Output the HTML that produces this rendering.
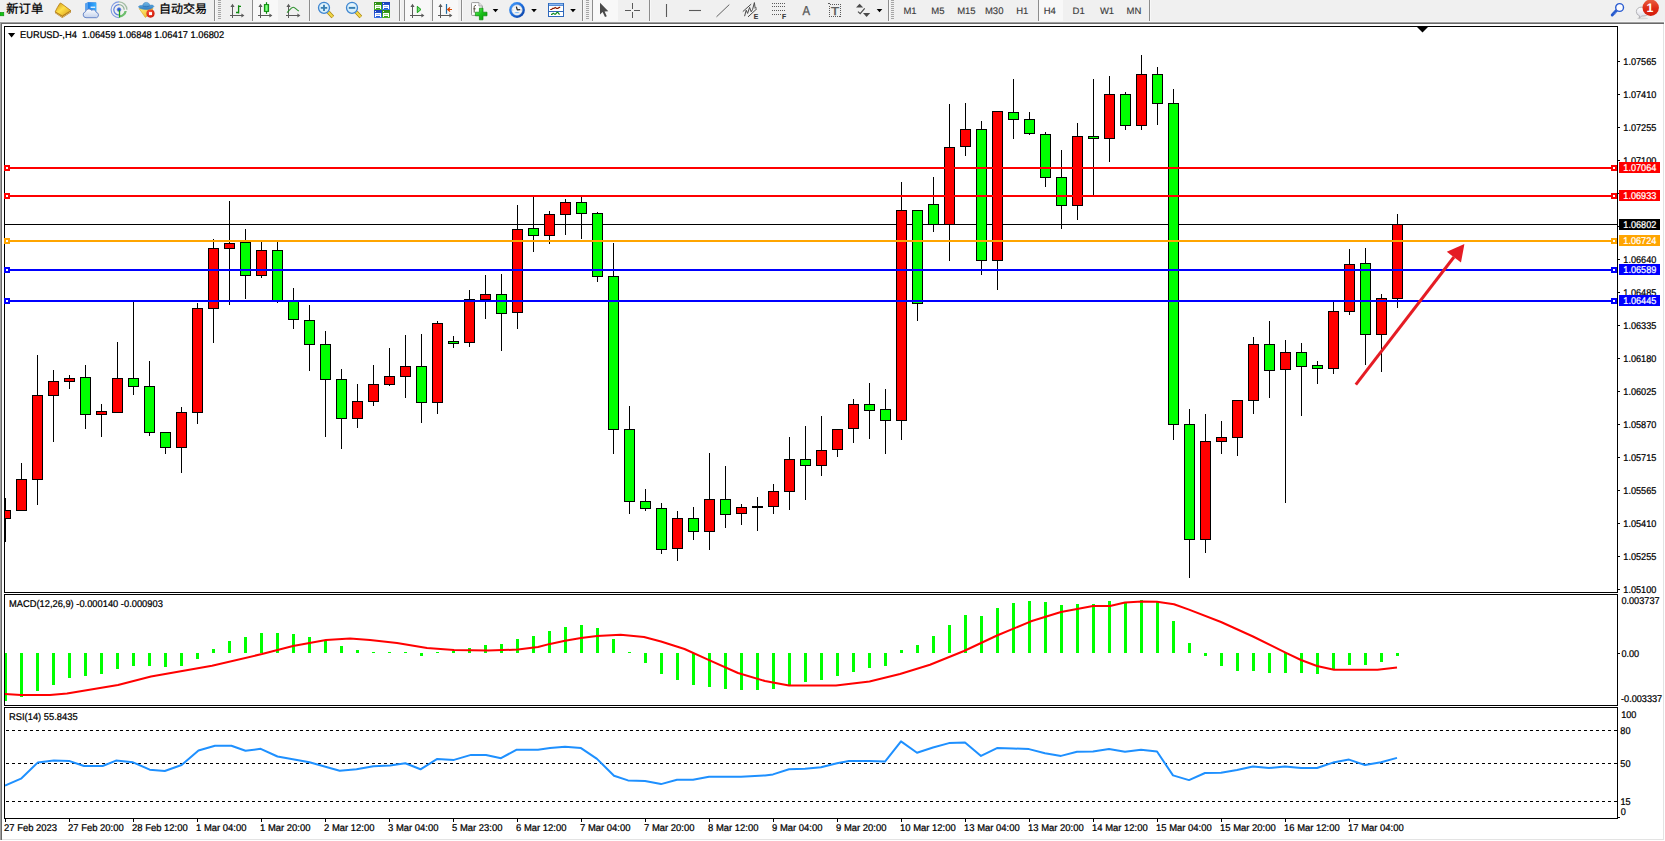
<!DOCTYPE html><html><head><meta charset="utf-8"><title>EURUSD-,H4</title><style>html,body{margin:0;padding:0;background:#fff;overflow:hidden}body{width:1665px;height:841px;position:relative}</style></head><body><svg width="1665" height="841" viewBox="0 0 1665 841" text-rendering="geometricPrecision" style="position:absolute;left:0;top:0;font-family:'Liberation Sans','Noto Sans CJK SC',sans-serif"><rect x="0" y="0" width="1665" height="841" fill="#fff"/><g shape-rendering="crispEdges"><rect x="0" y="0" width="1665" height="22" fill="#F0F0F0"/><rect x="0" y="21" width="1665" height="1" fill="#F6F6F6"/><rect x="0" y="22" width="1664" height="1" fill="#A0A0A0"/><rect x="0" y="23" width="1664" height="1" fill="#696969"/><rect x="0" y="22" width="1" height="818" fill="#A0A0A0"/><rect x="1" y="23" width="1" height="817" fill="#696969"/><rect x="1663" y="24" width="1" height="816" fill="#E3E3E3"/><rect x="2" y="839" width="1662" height="1" fill="#E3E3E3"/><rect x="4" y="26" width="1614" height="1" fill="#000"/><rect x="4" y="592" width="1614" height="1" fill="#000"/><rect x="4" y="26" width="1" height="567" fill="#000"/><rect x="1617" y="26" width="1" height="567" fill="#000"/><rect x="4" y="594" width="1614" height="1" fill="#000"/><rect x="4" y="705" width="1614" height="1" fill="#000"/><rect x="4" y="594" width="1" height="112" fill="#000"/><rect x="1617" y="594" width="1" height="112" fill="#000"/><rect x="4" y="707" width="1614" height="1" fill="#000"/><rect x="4" y="818" width="1614" height="1" fill="#000"/><rect x="4" y="707" width="1" height="112" fill="#000"/><rect x="1617" y="707" width="1" height="112" fill="#000"/></g><defs><clipPath id="cm"><rect x="5" y="27" width="1612" height="565"/></clipPath><clipPath id="c2"><rect x="5" y="595" width="1612" height="110"/></clipPath><clipPath id="c3"><rect x="5" y="708" width="1612" height="110"/></clipPath></defs><g shape-rendering="crispEdges" clip-path="url(#cm)"><rect x="5" y="224" width="1612" height="1" fill="#000"/><rect x="5" y="498" width="1" height="44" fill="#000"/><rect x="0" y="510" width="11" height="9" fill="#000"/><rect x="1" y="511" width="9" height="7" fill="#FF0000"/><rect x="21" y="463" width="1" height="48" fill="#000"/><rect x="16" y="479" width="11" height="32" fill="#000"/><rect x="17" y="480" width="9" height="30" fill="#FF0000"/><rect x="37" y="355" width="1" height="150" fill="#000"/><rect x="32" y="395" width="11" height="85" fill="#000"/><rect x="33" y="396" width="9" height="83" fill="#FF0000"/><rect x="53" y="370" width="1" height="72" fill="#000"/><rect x="48" y="381" width="11" height="15" fill="#000"/><rect x="49" y="382" width="9" height="13" fill="#FF0000"/><rect x="69" y="375" width="1" height="14" fill="#000"/><rect x="64" y="378" width="11" height="4" fill="#000"/><rect x="65" y="379" width="9" height="2" fill="#FF0000"/><rect x="85" y="365" width="1" height="64" fill="#000"/><rect x="80" y="377" width="11" height="38" fill="#000"/><rect x="81" y="378" width="9" height="36" fill="#00FF00"/><rect x="101" y="404" width="1" height="33" fill="#000"/><rect x="96" y="411" width="11" height="4" fill="#000"/><rect x="97" y="412" width="9" height="2" fill="#FF0000"/><rect x="117" y="342" width="1" height="71" fill="#000"/><rect x="112" y="378" width="11" height="35" fill="#000"/><rect x="113" y="379" width="9" height="33" fill="#FF0000"/><rect x="133" y="301" width="1" height="94" fill="#000"/><rect x="128" y="378" width="11" height="9" fill="#000"/><rect x="129" y="379" width="9" height="7" fill="#00FF00"/><rect x="149" y="361" width="1" height="75" fill="#000"/><rect x="144" y="386" width="11" height="47" fill="#000"/><rect x="145" y="387" width="9" height="45" fill="#00FF00"/><rect x="165" y="432" width="1" height="22" fill="#000"/><rect x="160" y="432" width="11" height="16" fill="#000"/><rect x="161" y="433" width="9" height="14" fill="#00FF00"/><rect x="181" y="407" width="1" height="66" fill="#000"/><rect x="176" y="412" width="11" height="36" fill="#000"/><rect x="177" y="413" width="9" height="34" fill="#FF0000"/><rect x="197" y="303" width="1" height="121" fill="#000"/><rect x="192" y="308" width="11" height="105" fill="#000"/><rect x="193" y="309" width="9" height="103" fill="#FF0000"/><rect x="213" y="239" width="1" height="104" fill="#000"/><rect x="208" y="248" width="11" height="61" fill="#000"/><rect x="209" y="249" width="9" height="59" fill="#FF0000"/><rect x="229" y="201" width="1" height="104" fill="#000"/><rect x="224" y="243" width="11" height="6" fill="#000"/><rect x="225" y="244" width="9" height="4" fill="#FF0000"/><rect x="245" y="229" width="1" height="70" fill="#000"/><rect x="240" y="242" width="11" height="34" fill="#000"/><rect x="241" y="243" width="9" height="32" fill="#00FF00"/><rect x="261" y="242" width="1" height="36" fill="#000"/><rect x="256" y="250" width="11" height="26" fill="#000"/><rect x="257" y="251" width="9" height="24" fill="#FF0000"/><rect x="277" y="242" width="1" height="61" fill="#000"/><rect x="272" y="250" width="11" height="51" fill="#000"/><rect x="273" y="251" width="9" height="49" fill="#00FF00"/><rect x="293" y="288" width="1" height="41" fill="#000"/><rect x="288" y="300" width="11" height="20" fill="#000"/><rect x="289" y="301" width="9" height="18" fill="#00FF00"/><rect x="309" y="305" width="1" height="66" fill="#000"/><rect x="304" y="320" width="11" height="25" fill="#000"/><rect x="305" y="321" width="9" height="23" fill="#00FF00"/><rect x="325" y="331" width="1" height="106" fill="#000"/><rect x="320" y="344" width="11" height="36" fill="#000"/><rect x="321" y="345" width="9" height="34" fill="#00FF00"/><rect x="341" y="369" width="1" height="80" fill="#000"/><rect x="336" y="379" width="11" height="40" fill="#000"/><rect x="337" y="380" width="9" height="38" fill="#00FF00"/><rect x="357" y="384" width="1" height="44" fill="#000"/><rect x="352" y="401" width="11" height="18" fill="#000"/><rect x="353" y="402" width="9" height="16" fill="#FF0000"/><rect x="373" y="365" width="1" height="41" fill="#000"/><rect x="368" y="384" width="11" height="18" fill="#000"/><rect x="369" y="385" width="9" height="16" fill="#FF0000"/><rect x="389" y="348" width="1" height="38" fill="#000"/><rect x="384" y="376" width="11" height="9" fill="#000"/><rect x="385" y="377" width="9" height="7" fill="#FF0000"/><rect x="405" y="335" width="1" height="63" fill="#000"/><rect x="400" y="366" width="11" height="11" fill="#000"/><rect x="401" y="367" width="9" height="9" fill="#FF0000"/><rect x="421" y="334" width="1" height="89" fill="#000"/><rect x="416" y="366" width="11" height="37" fill="#000"/><rect x="417" y="367" width="9" height="35" fill="#00FF00"/><rect x="437" y="321" width="1" height="93" fill="#000"/><rect x="432" y="323" width="11" height="80" fill="#000"/><rect x="433" y="324" width="9" height="78" fill="#FF0000"/><rect x="453" y="336" width="1" height="12" fill="#000"/><rect x="448" y="341" width="11" height="3" fill="#000"/><rect x="449" y="342" width="9" height="1" fill="#00FF00"/><rect x="469" y="290" width="1" height="57" fill="#000"/><rect x="464" y="299" width="11" height="44" fill="#000"/><rect x="465" y="300" width="9" height="42" fill="#FF0000"/><rect x="485" y="275" width="1" height="44" fill="#000"/><rect x="480" y="294" width="11" height="6" fill="#000"/><rect x="481" y="295" width="9" height="4" fill="#FF0000"/><rect x="501" y="274" width="1" height="77" fill="#000"/><rect x="496" y="294" width="11" height="20" fill="#000"/><rect x="497" y="295" width="9" height="18" fill="#00FF00"/><rect x="517" y="205" width="1" height="124" fill="#000"/><rect x="512" y="229" width="11" height="84" fill="#000"/><rect x="513" y="230" width="9" height="82" fill="#FF0000"/><rect x="533" y="196" width="1" height="56" fill="#000"/><rect x="528" y="228" width="11" height="8" fill="#000"/><rect x="529" y="229" width="9" height="6" fill="#00FF00"/><rect x="549" y="211" width="1" height="33" fill="#000"/><rect x="544" y="214" width="11" height="22" fill="#000"/><rect x="545" y="215" width="9" height="20" fill="#FF0000"/><rect x="565" y="199" width="1" height="36" fill="#000"/><rect x="560" y="202" width="11" height="13" fill="#000"/><rect x="561" y="203" width="9" height="11" fill="#FF0000"/><rect x="581" y="196" width="1" height="43" fill="#000"/><rect x="576" y="202" width="11" height="12" fill="#000"/><rect x="577" y="203" width="9" height="10" fill="#00FF00"/><rect x="597" y="212" width="1" height="70" fill="#000"/><rect x="592" y="213" width="11" height="64" fill="#000"/><rect x="593" y="214" width="9" height="62" fill="#00FF00"/><rect x="613" y="243" width="1" height="211" fill="#000"/><rect x="608" y="276" width="11" height="154" fill="#000"/><rect x="609" y="277" width="9" height="152" fill="#00FF00"/><rect x="629" y="406" width="1" height="108" fill="#000"/><rect x="624" y="429" width="11" height="73" fill="#000"/><rect x="625" y="430" width="9" height="71" fill="#00FF00"/><rect x="645" y="489" width="1" height="22" fill="#000"/><rect x="640" y="501" width="11" height="8" fill="#000"/><rect x="641" y="502" width="9" height="6" fill="#00FF00"/><rect x="661" y="503" width="1" height="51" fill="#000"/><rect x="656" y="508" width="11" height="42" fill="#000"/><rect x="657" y="509" width="9" height="40" fill="#00FF00"/><rect x="677" y="511" width="1" height="50" fill="#000"/><rect x="672" y="518" width="11" height="31" fill="#000"/><rect x="673" y="519" width="9" height="29" fill="#FF0000"/><rect x="693" y="507" width="1" height="33" fill="#000"/><rect x="688" y="518" width="11" height="14" fill="#000"/><rect x="689" y="519" width="9" height="12" fill="#00FF00"/><rect x="709" y="453" width="1" height="97" fill="#000"/><rect x="704" y="499" width="11" height="33" fill="#000"/><rect x="705" y="500" width="9" height="31" fill="#FF0000"/><rect x="725" y="466" width="1" height="62" fill="#000"/><rect x="720" y="499" width="11" height="16" fill="#000"/><rect x="721" y="500" width="9" height="14" fill="#00FF00"/><rect x="741" y="504" width="1" height="21" fill="#000"/><rect x="736" y="507" width="11" height="7" fill="#000"/><rect x="737" y="508" width="9" height="5" fill="#FF0000"/><rect x="757" y="497" width="1" height="34" fill="#000"/><rect x="752" y="506" width="11" height="2" fill="#000"/><rect x="773" y="484" width="1" height="30" fill="#000"/><rect x="768" y="491" width="11" height="16" fill="#000"/><rect x="769" y="492" width="9" height="14" fill="#FF0000"/><rect x="789" y="437" width="1" height="73" fill="#000"/><rect x="784" y="459" width="11" height="33" fill="#000"/><rect x="785" y="460" width="9" height="31" fill="#FF0000"/><rect x="805" y="426" width="1" height="74" fill="#000"/><rect x="800" y="459" width="11" height="7" fill="#000"/><rect x="801" y="460" width="9" height="5" fill="#00FF00"/><rect x="821" y="416" width="1" height="60" fill="#000"/><rect x="816" y="450" width="11" height="16" fill="#000"/><rect x="817" y="451" width="9" height="14" fill="#FF0000"/><rect x="837" y="429" width="1" height="28" fill="#000"/><rect x="832" y="429" width="11" height="21" fill="#000"/><rect x="833" y="430" width="9" height="19" fill="#FF0000"/><rect x="853" y="399" width="1" height="44" fill="#000"/><rect x="848" y="404" width="11" height="25" fill="#000"/><rect x="849" y="405" width="9" height="23" fill="#FF0000"/><rect x="869" y="383" width="1" height="56" fill="#000"/><rect x="864" y="404" width="11" height="7" fill="#000"/><rect x="865" y="405" width="9" height="5" fill="#00FF00"/><rect x="885" y="389" width="1" height="65" fill="#000"/><rect x="880" y="409" width="11" height="12" fill="#000"/><rect x="881" y="410" width="9" height="10" fill="#00FF00"/><rect x="901" y="182" width="1" height="258" fill="#000"/><rect x="896" y="210" width="11" height="211" fill="#000"/><rect x="897" y="211" width="9" height="209" fill="#FF0000"/><rect x="917" y="210" width="1" height="111" fill="#000"/><rect x="912" y="210" width="11" height="94" fill="#000"/><rect x="913" y="211" width="9" height="92" fill="#00FF00"/><rect x="933" y="177" width="1" height="55" fill="#000"/><rect x="928" y="204" width="11" height="21" fill="#000"/><rect x="929" y="205" width="9" height="19" fill="#00FF00"/><rect x="949" y="104" width="1" height="157" fill="#000"/><rect x="944" y="147" width="11" height="78" fill="#000"/><rect x="945" y="148" width="9" height="76" fill="#FF0000"/><rect x="965" y="103" width="1" height="53" fill="#000"/><rect x="960" y="129" width="11" height="18" fill="#000"/><rect x="961" y="130" width="9" height="16" fill="#FF0000"/><rect x="981" y="121" width="1" height="154" fill="#000"/><rect x="976" y="129" width="11" height="132" fill="#000"/><rect x="977" y="130" width="9" height="130" fill="#00FF00"/><rect x="997" y="111" width="1" height="179" fill="#000"/><rect x="992" y="111" width="11" height="150" fill="#000"/><rect x="993" y="112" width="9" height="148" fill="#FF0000"/><rect x="1013" y="79" width="1" height="60" fill="#000"/><rect x="1008" y="112" width="11" height="8" fill="#000"/><rect x="1009" y="113" width="9" height="6" fill="#00FF00"/><rect x="1029" y="112" width="1" height="23" fill="#000"/><rect x="1024" y="119" width="11" height="15" fill="#000"/><rect x="1025" y="120" width="9" height="13" fill="#00FF00"/><rect x="1045" y="132" width="1" height="55" fill="#000"/><rect x="1040" y="134" width="11" height="44" fill="#000"/><rect x="1041" y="135" width="9" height="42" fill="#00FF00"/><rect x="1061" y="150" width="1" height="79" fill="#000"/><rect x="1056" y="177" width="11" height="29" fill="#000"/><rect x="1057" y="178" width="9" height="27" fill="#00FF00"/><rect x="1077" y="123" width="1" height="97" fill="#000"/><rect x="1072" y="136" width="11" height="70" fill="#000"/><rect x="1073" y="137" width="9" height="68" fill="#FF0000"/><rect x="1093" y="79" width="1" height="116" fill="#000"/><rect x="1088" y="136" width="11" height="3" fill="#000"/><rect x="1089" y="137" width="9" height="1" fill="#00FF00"/><rect x="1109" y="76" width="1" height="86" fill="#000"/><rect x="1104" y="94" width="11" height="45" fill="#000"/><rect x="1105" y="95" width="9" height="43" fill="#FF0000"/><rect x="1125" y="92" width="1" height="38" fill="#000"/><rect x="1120" y="94" width="11" height="32" fill="#000"/><rect x="1121" y="95" width="9" height="30" fill="#00FF00"/><rect x="1141" y="55" width="1" height="75" fill="#000"/><rect x="1136" y="74" width="11" height="52" fill="#000"/><rect x="1137" y="75" width="9" height="50" fill="#FF0000"/><rect x="1157" y="67" width="1" height="58" fill="#000"/><rect x="1152" y="74" width="11" height="30" fill="#000"/><rect x="1153" y="75" width="9" height="28" fill="#00FF00"/><rect x="1173" y="89" width="1" height="351" fill="#000"/><rect x="1168" y="103" width="11" height="322" fill="#000"/><rect x="1169" y="104" width="9" height="320" fill="#00FF00"/><rect x="1189" y="409" width="1" height="169" fill="#000"/><rect x="1184" y="424" width="11" height="116" fill="#000"/><rect x="1185" y="425" width="9" height="114" fill="#00FF00"/><rect x="1205" y="414" width="1" height="139" fill="#000"/><rect x="1200" y="441" width="11" height="99" fill="#000"/><rect x="1201" y="442" width="9" height="97" fill="#FF0000"/><rect x="1221" y="421" width="1" height="33" fill="#000"/><rect x="1216" y="437" width="11" height="5" fill="#000"/><rect x="1217" y="438" width="9" height="3" fill="#FF0000"/><rect x="1237" y="400" width="1" height="56" fill="#000"/><rect x="1232" y="400" width="11" height="38" fill="#000"/><rect x="1233" y="401" width="9" height="36" fill="#FF0000"/><rect x="1253" y="337" width="1" height="77" fill="#000"/><rect x="1248" y="344" width="11" height="57" fill="#000"/><rect x="1249" y="345" width="9" height="55" fill="#FF0000"/><rect x="1269" y="321" width="1" height="77" fill="#000"/><rect x="1264" y="344" width="11" height="27" fill="#000"/><rect x="1265" y="345" width="9" height="25" fill="#00FF00"/><rect x="1285" y="340" width="1" height="163" fill="#000"/><rect x="1280" y="352" width="11" height="18" fill="#000"/><rect x="1281" y="353" width="9" height="16" fill="#FF0000"/><rect x="1301" y="343" width="1" height="73" fill="#000"/><rect x="1296" y="352" width="11" height="15" fill="#000"/><rect x="1297" y="353" width="9" height="13" fill="#00FF00"/><rect x="1317" y="361" width="1" height="23" fill="#000"/><rect x="1312" y="365" width="11" height="4" fill="#000"/><rect x="1313" y="366" width="9" height="2" fill="#00FF00"/><rect x="1333" y="301" width="1" height="73" fill="#000"/><rect x="1328" y="311" width="11" height="58" fill="#000"/><rect x="1329" y="312" width="9" height="56" fill="#FF0000"/><rect x="1349" y="249" width="1" height="66" fill="#000"/><rect x="1344" y="264" width="11" height="48" fill="#000"/><rect x="1345" y="265" width="9" height="46" fill="#FF0000"/><rect x="1365" y="248" width="1" height="117" fill="#000"/><rect x="1360" y="263" width="11" height="72" fill="#000"/><rect x="1361" y="264" width="9" height="70" fill="#00FF00"/><rect x="1381" y="294" width="1" height="78" fill="#000"/><rect x="1376" y="298" width="11" height="37" fill="#000"/><rect x="1377" y="299" width="9" height="35" fill="#FF0000"/><rect x="1397" y="214" width="1" height="94" fill="#000"/><rect x="1392" y="224" width="11" height="75" fill="#000"/><rect x="1393" y="225" width="9" height="73" fill="#FF0000"/><rect x="5" y="167" width="1612" height="2" fill="#FF0000"/><rect x="5" y="195" width="1612" height="2" fill="#FF0000"/><rect x="5" y="240" width="1612" height="2" fill="#FFA500"/><rect x="5" y="269" width="1612" height="2" fill="#0000FF"/><rect x="5" y="300" width="1612" height="2" fill="#0000FF"/></g><path d="M1417 27 L1428 27 L1422.5 32.5 Z" fill="#000"/><g shape-rendering="crispEdges"><rect x="4" y="165" width="6" height="6" fill="#FF0000"/><rect x="6" y="167" width="2" height="2" fill="#fff"/><rect x="1611" y="165" width="6" height="6" fill="#FF0000"/><rect x="1613" y="167" width="2" height="2" fill="#fff"/><rect x="4" y="193" width="6" height="6" fill="#FF0000"/><rect x="6" y="195" width="2" height="2" fill="#fff"/><rect x="1611" y="193" width="6" height="6" fill="#FF0000"/><rect x="1613" y="195" width="2" height="2" fill="#fff"/><rect x="4" y="238" width="6" height="6" fill="#FFA500"/><rect x="6" y="240" width="2" height="2" fill="#fff"/><rect x="1611" y="238" width="6" height="6" fill="#FFA500"/><rect x="1613" y="240" width="2" height="2" fill="#fff"/><rect x="4" y="267" width="6" height="6" fill="#0000FF"/><rect x="6" y="269" width="2" height="2" fill="#fff"/><rect x="1611" y="267" width="6" height="6" fill="#0000FF"/><rect x="1613" y="269" width="2" height="2" fill="#fff"/><rect x="4" y="298" width="6" height="6" fill="#0000FF"/><rect x="6" y="300" width="2" height="2" fill="#fff"/><rect x="1611" y="298" width="6" height="6" fill="#0000FF"/><rect x="1613" y="300" width="2" height="2" fill="#fff"/></g><g><line x1="1355.8" y1="384.6" x2="1454" y2="257" stroke="#E51C24" stroke-width="3"/><path d="M1464.4 243.9 L1461 262.6 L1446.8 251.8 Z" fill="#E51C24"/></g><path d="M8 33 L15.2 33 L11.6 37.6 Z" fill="#000"/><text transform="translate(20 38) scale(0.949 1)" font-size="9.8" fill="#000" stroke="#000" stroke-width="0.24" id="t_title" xml:space="preserve">EURUSD-,H4  1.06459 1.06848 1.06417 1.06802</text><g shape-rendering="crispEdges"><rect x="1618" y="61" width="2" height="1" fill="#000"/><rect x="1618" y="94" width="2" height="1" fill="#000"/><rect x="1618" y="127" width="2" height="1" fill="#000"/><rect x="1618" y="160" width="2" height="1" fill="#000"/><rect x="1618" y="193" width="2" height="1" fill="#000"/><rect x="1618" y="226" width="2" height="1" fill="#000"/><rect x="1618" y="259" width="2" height="1" fill="#000"/><rect x="1618" y="292" width="2" height="1" fill="#000"/><rect x="1618" y="325" width="2" height="1" fill="#000"/><rect x="1618" y="358" width="2" height="1" fill="#000"/><rect x="1618" y="391" width="2" height="1" fill="#000"/><rect x="1618" y="424" width="2" height="1" fill="#000"/><rect x="1618" y="457" width="2" height="1" fill="#000"/><rect x="1618" y="490" width="2" height="1" fill="#000"/><rect x="1618" y="523" width="2" height="1" fill="#000"/><rect x="1618" y="556" width="2" height="1" fill="#000"/><rect x="1618" y="589" width="2" height="1" fill="#000"/></g><text transform="translate(1623.3 65) scale(0.9337 1)" font-size="9.8" fill="#000" stroke="#000" stroke-width="0.24" class="pl" xml:space="preserve">1.07565</text><text transform="translate(1623.3 98) scale(0.9337 1)" font-size="9.8" fill="#000" stroke="#000" stroke-width="0.24" class="pl" xml:space="preserve">1.07410</text><text transform="translate(1623.3 131) scale(0.9337 1)" font-size="9.8" fill="#000" stroke="#000" stroke-width="0.24" class="pl" xml:space="preserve">1.07255</text><text transform="translate(1623.3 164) scale(0.9337 1)" font-size="9.8" fill="#000" stroke="#000" stroke-width="0.24" class="pl" xml:space="preserve">1.07100</text><text transform="translate(1623.3 263) scale(0.9337 1)" font-size="9.8" fill="#000" stroke="#000" stroke-width="0.24" class="pl" xml:space="preserve">1.06640</text><text transform="translate(1623.3 296) scale(0.9337 1)" font-size="9.8" fill="#000" stroke="#000" stroke-width="0.24" class="pl" xml:space="preserve">1.06485</text><text transform="translate(1623.3 329) scale(0.9337 1)" font-size="9.8" fill="#000" stroke="#000" stroke-width="0.24" class="pl" xml:space="preserve">1.06335</text><text transform="translate(1623.3 362) scale(0.9337 1)" font-size="9.8" fill="#000" stroke="#000" stroke-width="0.24" class="pl" xml:space="preserve">1.06180</text><text transform="translate(1623.3 395) scale(0.9337 1)" font-size="9.8" fill="#000" stroke="#000" stroke-width="0.24" class="pl" xml:space="preserve">1.06025</text><text transform="translate(1623.3 428) scale(0.9337 1)" font-size="9.8" fill="#000" stroke="#000" stroke-width="0.24" class="pl" xml:space="preserve">1.05870</text><text transform="translate(1623.3 461) scale(0.9337 1)" font-size="9.8" fill="#000" stroke="#000" stroke-width="0.24" class="pl" xml:space="preserve">1.05715</text><text transform="translate(1623.3 494) scale(0.9337 1)" font-size="9.8" fill="#000" stroke="#000" stroke-width="0.24" class="pl" xml:space="preserve">1.05565</text><text transform="translate(1623.3 527) scale(0.9337 1)" font-size="9.8" fill="#000" stroke="#000" stroke-width="0.24" class="pl" xml:space="preserve">1.05410</text><text transform="translate(1623.3 560) scale(0.9337 1)" font-size="9.8" fill="#000" stroke="#000" stroke-width="0.24" class="pl" xml:space="preserve">1.05255</text><text transform="translate(1623.3 593) scale(0.9337 1)" font-size="9.8" fill="#000" stroke="#000" stroke-width="0.24" class="pl" xml:space="preserve">1.05100</text><rect x="1619" y="162" width="41" height="11" fill="#FF0000" shape-rendering="crispEdges"/><text transform="translate(1623.3 171) scale(0.9337 1)" font-size="9.8" fill="#fff" stroke="#fff" stroke-width="0.24" class="pl" xml:space="preserve">1.07064</text><rect x="1619" y="190" width="41" height="11" fill="#FF0000" shape-rendering="crispEdges"/><text transform="translate(1623.3 199) scale(0.9337 1)" font-size="9.8" fill="#fff" stroke="#fff" stroke-width="0.24" class="pl" xml:space="preserve">1.06933</text><rect x="1619" y="219" width="41" height="11" fill="#000000" shape-rendering="crispEdges"/><text transform="translate(1623.3 228) scale(0.9337 1)" font-size="9.8" fill="#fff" stroke="#fff" stroke-width="0.24" class="pl" xml:space="preserve">1.06802</text><rect x="1619" y="235" width="41" height="11" fill="#FFA500" shape-rendering="crispEdges"/><text transform="translate(1623.3 244) scale(0.9337 1)" font-size="9.8" fill="#fff" stroke="#fff" stroke-width="0.24" class="pl" xml:space="preserve">1.06724</text><rect x="1619" y="264" width="41" height="11" fill="#0000FF" shape-rendering="crispEdges"/><text transform="translate(1623.3 273) scale(0.9337 1)" font-size="9.8" fill="#fff" stroke="#fff" stroke-width="0.24" class="pl" xml:space="preserve">1.06589</text><rect x="1619" y="295" width="41" height="11" fill="#0000FF" shape-rendering="crispEdges"/><text transform="translate(1623.3 304) scale(0.9337 1)" font-size="9.8" fill="#fff" stroke="#fff" stroke-width="0.24" class="pl" xml:space="preserve">1.06445</text><g shape-rendering="crispEdges" clip-path="url(#c2)"><rect x="4" y="653" width="3" height="48" fill="#00FF00"/><rect x="20" y="653" width="3" height="44" fill="#00FF00"/><rect x="36" y="653" width="3" height="38" fill="#00FF00"/><rect x="52" y="653" width="3" height="32" fill="#00FF00"/><rect x="68" y="653" width="3" height="25" fill="#00FF00"/><rect x="84" y="653" width="3" height="23" fill="#00FF00"/><rect x="100" y="653" width="3" height="21" fill="#00FF00"/><rect x="116" y="653" width="3" height="16" fill="#00FF00"/><rect x="132" y="653" width="3" height="13" fill="#00FF00"/><rect x="148" y="653" width="3" height="13" fill="#00FF00"/><rect x="164" y="653" width="3" height="14" fill="#00FF00"/><rect x="180" y="653" width="3" height="13" fill="#00FF00"/><rect x="196" y="653" width="3" height="6" fill="#00FF00"/><rect x="212" y="649" width="3" height="4" fill="#00FF00"/><rect x="228" y="641" width="3" height="12" fill="#00FF00"/><rect x="244" y="637" width="3" height="16" fill="#00FF00"/><rect x="260" y="633" width="3" height="20" fill="#00FF00"/><rect x="276" y="633" width="3" height="20" fill="#00FF00"/><rect x="292" y="634" width="3" height="19" fill="#00FF00"/><rect x="308" y="637" width="3" height="16" fill="#00FF00"/><rect x="324" y="640" width="3" height="13" fill="#00FF00"/><rect x="340" y="646" width="3" height="7" fill="#00FF00"/><rect x="356" y="650" width="3" height="3" fill="#00FF00"/><rect x="372" y="652" width="3" height="1" fill="#00FF00"/><rect x="388" y="652" width="3" height="1" fill="#00FF00"/><rect x="404" y="652" width="3" height="1" fill="#00FF00"/><rect x="420" y="653" width="3" height="3" fill="#00FF00"/><rect x="436" y="652" width="3" height="1" fill="#00FF00"/><rect x="452" y="651" width="3" height="2" fill="#00FF00"/><rect x="468" y="648" width="3" height="5" fill="#00FF00"/><rect x="484" y="645" width="3" height="8" fill="#00FF00"/><rect x="500" y="644" width="3" height="9" fill="#00FF00"/><rect x="516" y="639" width="3" height="14" fill="#00FF00"/><rect x="532" y="636" width="3" height="17" fill="#00FF00"/><rect x="548" y="631" width="3" height="22" fill="#00FF00"/><rect x="564" y="627" width="3" height="26" fill="#00FF00"/><rect x="580" y="625" width="3" height="28" fill="#00FF00"/><rect x="596" y="628" width="3" height="25" fill="#00FF00"/><rect x="612" y="639" width="3" height="14" fill="#00FF00"/><rect x="628" y="652" width="3" height="1" fill="#00FF00"/><rect x="644" y="653" width="3" height="10" fill="#00FF00"/><rect x="660" y="653" width="3" height="21" fill="#00FF00"/><rect x="676" y="653" width="3" height="27" fill="#00FF00"/><rect x="692" y="653" width="3" height="32" fill="#00FF00"/><rect x="708" y="653" width="3" height="34" fill="#00FF00"/><rect x="724" y="653" width="3" height="36" fill="#00FF00"/><rect x="740" y="653" width="3" height="37" fill="#00FF00"/><rect x="756" y="653" width="3" height="37" fill="#00FF00"/><rect x="772" y="653" width="3" height="36" fill="#00FF00"/><rect x="788" y="653" width="3" height="33" fill="#00FF00"/><rect x="804" y="653" width="3" height="29" fill="#00FF00"/><rect x="820" y="653" width="3" height="27" fill="#00FF00"/><rect x="836" y="653" width="3" height="23" fill="#00FF00"/><rect x="852" y="653" width="3" height="19" fill="#00FF00"/><rect x="868" y="653" width="3" height="15" fill="#00FF00"/><rect x="884" y="653" width="3" height="13" fill="#00FF00"/><rect x="900" y="650" width="3" height="3" fill="#00FF00"/><rect x="916" y="645" width="3" height="8" fill="#00FF00"/><rect x="932" y="636" width="3" height="17" fill="#00FF00"/><rect x="948" y="625" width="3" height="28" fill="#00FF00"/><rect x="964" y="615" width="3" height="38" fill="#00FF00"/><rect x="980" y="616" width="3" height="37" fill="#00FF00"/><rect x="996" y="608" width="3" height="45" fill="#00FF00"/><rect x="1012" y="603" width="3" height="50" fill="#00FF00"/><rect x="1028" y="601" width="3" height="52" fill="#00FF00"/><rect x="1044" y="602" width="3" height="51" fill="#00FF00"/><rect x="1060" y="605" width="3" height="48" fill="#00FF00"/><rect x="1076" y="604" width="3" height="49" fill="#00FF00"/><rect x="1092" y="604" width="3" height="49" fill="#00FF00"/><rect x="1108" y="601" width="3" height="52" fill="#00FF00"/><rect x="1124" y="603" width="3" height="50" fill="#00FF00"/><rect x="1140" y="600" width="3" height="53" fill="#00FF00"/><rect x="1156" y="601" width="3" height="52" fill="#00FF00"/><rect x="1172" y="621" width="3" height="32" fill="#00FF00"/><rect x="1188" y="643" width="3" height="10" fill="#00FF00"/><rect x="1204" y="653" width="3" height="3" fill="#00FF00"/><rect x="1220" y="653" width="3" height="13" fill="#00FF00"/><rect x="1236" y="653" width="3" height="18" fill="#00FF00"/><rect x="1252" y="653" width="3" height="18" fill="#00FF00"/><rect x="1268" y="653" width="3" height="20" fill="#00FF00"/><rect x="1284" y="653" width="3" height="20" fill="#00FF00"/><rect x="1300" y="653" width="3" height="20" fill="#00FF00"/><rect x="1316" y="653" width="3" height="21" fill="#00FF00"/><rect x="1332" y="653" width="3" height="17" fill="#00FF00"/><rect x="1348" y="653" width="3" height="12" fill="#00FF00"/><rect x="1364" y="653" width="3" height="12" fill="#00FF00"/><rect x="1380" y="653" width="3" height="9" fill="#00FF00"/><rect x="1396" y="653" width="3" height="3" fill="#00FF00"/></g><polyline clip-path="url(#c2)" fill="none" stroke="#FF0000" stroke-width="2" stroke-linejoin="round" points="5,694 21,695 50,695 67,693.5 118,685 151,676.5 212,665.7 262,654 293,646 326,640 350,638.5 370,640 397,643 427,648 454,650 488,650.6 518,649.6 538,647 550,643.9 565,640.8 581,638 597,636 620.6,634.8 644,637 661,641.5 684.5,649 708,659.7 738,673 765,681 789,685.6 836,685.6 869.5,681.5 900,674 930,664.7 964,651 997,635.5 1031,621.3 1061,612 1093,606 1110,605.9 1125,602.5 1142,601.5 1157,601.8 1174,604.2 1189,609.6 1221,622 1253,636.5 1285,652.3 1301,660 1317,666 1334,669.8 1377.5,669.8 1397,667.4"/><text transform="translate(9 607) scale(0.951 1)" font-size="9.8" fill="#000" stroke="#000" stroke-width="0.24" id="t_macd" xml:space="preserve">MACD(12,26,9) -0.000140 -0.000903</text><text transform="translate(1621.4 604.4) scale(0.9337 1)" font-size="9.8" fill="#000" stroke="#000" stroke-width="0.24" class="pl" xml:space="preserve">0.003737</text><text transform="translate(1621.4 657) scale(0.9337 1)" font-size="9.8" fill="#000" stroke="#000" stroke-width="0.24" class="pl" xml:space="preserve">0.00</text><text transform="translate(1621 701.8) scale(0.9337 1)" font-size="9.8" fill="#000" stroke="#000" stroke-width="0.24" class="pl" xml:space="preserve">-0.003337</text><rect x="1618" y="653" width="2" height="1" fill="#000" shape-rendering="crispEdges"/><g shape-rendering="crispEdges"><line x1="6" y1="730.5" x2="1617" y2="730.5" stroke="#000" stroke-width="1" stroke-dasharray="3 3"/><line x1="6" y1="763.5" x2="1617" y2="763.5" stroke="#000" stroke-width="1" stroke-dasharray="3 3"/><line x1="6" y1="801.5" x2="1617" y2="801.5" stroke="#000" stroke-width="1" stroke-dasharray="3 3"/></g><rect x="1618" y="817" width="2" height="1" fill="#000" shape-rendering="crispEdges"/><polyline clip-path="url(#c3)" fill="none" stroke="#1E90FF" stroke-width="2" stroke-linejoin="round" points="5,785.5 21,778.7 37.7,762.6 53.8,760.6 69,760.9 84,766 102.6,766 116,760.6 133,762.3 149.7,769.7 164.8,771 181.6,765 198.5,750.5 215,745.8 231.4,745.8 245.5,750.8 260.7,748.8 277.5,756.5 309.5,762.3 339.7,770.7 356.5,769.3 373.4,766.3 390,765.6 405.3,763.3 420.5,769.3 437.3,758.9 454,759.9 471,754.9 486,754.9 501,758.2 516.3,749.8 538,749.8 550,748.1 565,746.8 581,748.1 597,758.9 614,775.7 628,780.4 645,781.1 661,784.1 677,779.8 693,779.8 709,776.7 741,776.7 765,775.4 773,774.4 789,769.3 805,768.7 821,767.3 837,763.3 849,760.9 869,760.9 885,761.6 901,741.4 917,752.8 933,747.5 949,743.1 965,742.4 981,755.9 997,748.1 1013,748.5 1029,749.1 1045,753.2 1061,755.9 1077,751.8 1093,751.5 1109,749.1 1125,751.8 1141,749.8 1157,751.5 1173,775.4 1189,780.1 1205,773 1221,772.7 1237,770 1253,766.6 1269,768 1285,766.6 1301,768 1317,768 1333,762.6 1349,759.6 1365,765 1381,762.3 1397,757.9"/><text transform="translate(9 720) scale(0.9541 1)" font-size="9.8" fill="#000" stroke="#000" stroke-width="0.24" id="t_rsi" xml:space="preserve">RSI(14) 55.8435</text><text transform="translate(1621.2 717.8) scale(0.9337 1)" font-size="9.8" fill="#000" stroke="#000" stroke-width="0.24" class="pl" xml:space="preserve">100</text><text transform="translate(1620.3 733.6) scale(0.9337 1)" font-size="9.8" fill="#000" stroke="#000" stroke-width="0.24" class="pl" xml:space="preserve">80</text><text transform="translate(1620.3 766.6) scale(0.9337 1)" font-size="9.8" fill="#000" stroke="#000" stroke-width="0.24" class="pl" xml:space="preserve">50</text><text transform="translate(1620.5 804.6) scale(0.9337 1)" font-size="9.8" fill="#000" stroke="#000" stroke-width="0.24" class="pl" xml:space="preserve">15</text><text transform="translate(1620.8 815.2) scale(0.9337 1)" font-size="9.8" fill="#000" stroke="#000" stroke-width="0.24" class="pl" xml:space="preserve">0</text><g shape-rendering="crispEdges"><rect x="5" y="819" width="1" height="3" fill="#000"/><rect x="69" y="819" width="1" height="3" fill="#000"/><rect x="133" y="819" width="1" height="3" fill="#000"/><rect x="197" y="819" width="1" height="3" fill="#000"/><rect x="261" y="819" width="1" height="3" fill="#000"/><rect x="325" y="819" width="1" height="3" fill="#000"/><rect x="389" y="819" width="1" height="3" fill="#000"/><rect x="453" y="819" width="1" height="3" fill="#000"/><rect x="517" y="819" width="1" height="3" fill="#000"/><rect x="581" y="819" width="1" height="3" fill="#000"/><rect x="645" y="819" width="1" height="3" fill="#000"/><rect x="709" y="819" width="1" height="3" fill="#000"/><rect x="773" y="819" width="1" height="3" fill="#000"/><rect x="837" y="819" width="1" height="3" fill="#000"/><rect x="901" y="819" width="1" height="3" fill="#000"/><rect x="965" y="819" width="1" height="3" fill="#000"/><rect x="1029" y="819" width="1" height="3" fill="#000"/><rect x="1093" y="819" width="1" height="3" fill="#000"/><rect x="1157" y="819" width="1" height="3" fill="#000"/><rect x="1221" y="819" width="1" height="3" fill="#000"/><rect x="1285" y="819" width="1" height="3" fill="#000"/><rect x="1349" y="819" width="1" height="3" fill="#000"/></g><text transform="translate(4 831) scale(0.9643 1)" font-size="9.8" fill="#000" stroke="#000" stroke-width="0.24" class="tl" xml:space="preserve">27 Feb 2023</text><text transform="translate(68 831) scale(0.9643 1)" font-size="9.8" fill="#000" stroke="#000" stroke-width="0.24" class="tl" xml:space="preserve">27 Feb 20:00</text><text transform="translate(132 831) scale(0.9643 1)" font-size="9.8" fill="#000" stroke="#000" stroke-width="0.24" class="tl" xml:space="preserve">28 Feb 12:00</text><text transform="translate(196 831) scale(0.9643 1)" font-size="9.8" fill="#000" stroke="#000" stroke-width="0.24" class="tl" xml:space="preserve">1 Mar 04:00</text><text transform="translate(260 831) scale(0.9643 1)" font-size="9.8" fill="#000" stroke="#000" stroke-width="0.24" class="tl" xml:space="preserve">1 Mar 20:00</text><text transform="translate(324 831) scale(0.9643 1)" font-size="9.8" fill="#000" stroke="#000" stroke-width="0.24" class="tl" xml:space="preserve">2 Mar 12:00</text><text transform="translate(388 831) scale(0.9643 1)" font-size="9.8" fill="#000" stroke="#000" stroke-width="0.24" class="tl" xml:space="preserve">3 Mar 04:00</text><text transform="translate(452 831) scale(0.9643 1)" font-size="9.8" fill="#000" stroke="#000" stroke-width="0.24" class="tl" xml:space="preserve">5 Mar 23:00</text><text transform="translate(516 831) scale(0.9643 1)" font-size="9.8" fill="#000" stroke="#000" stroke-width="0.24" class="tl" xml:space="preserve">6 Mar 12:00</text><text transform="translate(580 831) scale(0.9643 1)" font-size="9.8" fill="#000" stroke="#000" stroke-width="0.24" class="tl" xml:space="preserve">7 Mar 04:00</text><text transform="translate(644 831) scale(0.9643 1)" font-size="9.8" fill="#000" stroke="#000" stroke-width="0.24" class="tl" xml:space="preserve">7 Mar 20:00</text><text transform="translate(708 831) scale(0.9643 1)" font-size="9.8" fill="#000" stroke="#000" stroke-width="0.24" class="tl" xml:space="preserve">8 Mar 12:00</text><text transform="translate(772 831) scale(0.9643 1)" font-size="9.8" fill="#000" stroke="#000" stroke-width="0.24" class="tl" xml:space="preserve">9 Mar 04:00</text><text transform="translate(836 831) scale(0.9643 1)" font-size="9.8" fill="#000" stroke="#000" stroke-width="0.24" class="tl" xml:space="preserve">9 Mar 20:00</text><text transform="translate(900 831) scale(0.9643 1)" font-size="9.8" fill="#000" stroke="#000" stroke-width="0.24" class="tl" xml:space="preserve">10 Mar 12:00</text><text transform="translate(964 831) scale(0.9643 1)" font-size="9.8" fill="#000" stroke="#000" stroke-width="0.24" class="tl" xml:space="preserve">13 Mar 04:00</text><text transform="translate(1028 831) scale(0.9643 1)" font-size="9.8" fill="#000" stroke="#000" stroke-width="0.24" class="tl" xml:space="preserve">13 Mar 20:00</text><text transform="translate(1092 831) scale(0.9643 1)" font-size="9.8" fill="#000" stroke="#000" stroke-width="0.24" class="tl" xml:space="preserve">14 Mar 12:00</text><text transform="translate(1156 831) scale(0.9643 1)" font-size="9.8" fill="#000" stroke="#000" stroke-width="0.24" class="tl" xml:space="preserve">15 Mar 04:00</text><text transform="translate(1220 831) scale(0.9643 1)" font-size="9.8" fill="#000" stroke="#000" stroke-width="0.24" class="tl" xml:space="preserve">15 Mar 20:00</text><text transform="translate(1284 831) scale(0.9643 1)" font-size="9.8" fill="#000" stroke="#000" stroke-width="0.24" class="tl" xml:space="preserve">16 Mar 12:00</text><text transform="translate(1348 831) scale(0.9643 1)" font-size="9.8" fill="#000" stroke="#000" stroke-width="0.24" class="tl" xml:space="preserve">17 Mar 04:00</text><rect x="0" y="12.4" width="3.8" height="3.4" fill="#14C414" stroke="#0A8A0A" stroke-width="0.6"/><text x="6.3" y="13.2" font-size="12.3" fill="#000" stroke="#000" stroke-width="0.25">新订单</text><defs><linearGradient id="gb" x1="0" y1="0" x2="1" y2="1"><stop offset="0" stop-color="#C98E12"/><stop offset="0.45" stop-color="#FFE048"/><stop offset="1" stop-color="#D79A18"/></linearGradient><linearGradient id="gpc" x1="0" y1="0" x2="1" y2="0"><stop offset="0" stop-color="#1C7FE8"/><stop offset="1" stop-color="#38B0FF"/></linearGradient><linearGradient id="gcl" x1="0" y1="0" x2="0" y2="1"><stop offset="0" stop-color="#FFFFFF"/><stop offset="1" stop-color="#C4D2EC"/></linearGradient><linearGradient id="ghat" x1="0" y1="0" x2="0" y2="1"><stop offset="0" stop-color="#6FB6E4"/><stop offset="1" stop-color="#2F7FC4"/></linearGradient><linearGradient id="gface" x1="0" y1="0" x2="1" y2="1"><stop offset="0" stop-color="#FFF07A"/><stop offset="1" stop-color="#E8B020"/></linearGradient><radialGradient id="gstop" cx="0.4" cy="0.35" r="0.7"><stop offset="0" stop-color="#FF5A3C"/><stop offset="1" stop-color="#C81408"/></radialGradient></defs><g><path d="M55.3 13.2 L62.3 18 L70.8 12.6 L70.8 10.6 L62.3 15.8 L55.3 11.4 Z" fill="#A8700E"/><path d="M55.8 12.9 L62.3 17.2 L70.4 12" fill="none" stroke="#F2D48A" stroke-width="0.7"/><path d="M55.2 11.8 C56.5 9 58 6 60 3.2 C60.6 3 61.2 3.3 61.8 3.8 L70.8 10.6 L62.3 15.9 Z" fill="url(#gb)" stroke="#B27A10" stroke-width="0.8" stroke-linejoin="round"/></g><g><path d="M85.2 3.4 L88 2.2 L96.2 2.6 L96.2 11.5 L88 11.5 L85.2 10.2 Z" fill="#1A6FD8"/><path d="M88 2.4 L96.2 2.8 L96.2 11.5 L88 11.5 Z" fill="url(#gpc)"/><path d="M85.2 3.4 L88 2.4 L88 11.5 L85.2 10.2 Z" fill="#8CCBFF" opacity="0.55"/><rect x="90.6" y="6.6" width="4.6" height="1.3" fill="#EAF5FF"/><path d="M86 17.7 a3 3 0 0 1 -0.6 -5.9 a3.5 3.5 0 0 1 6.2 -1.5 a3 3 0 0 1 4.6 2 a2.8 2.8 0 0 1 0.4 5.4 z" fill="url(#gcl)" stroke="#5F7FC4" stroke-width="0.9"/></g><g fill="none"><path d="M119 1.9 a7.9 7.9 0 0 0 0 15.8" stroke="#5A7EDC" stroke-width="1.1" opacity="0.75"/><path d="M119 1.9 a7.9 7.9 0 0 1 7.9 7.9" stroke="#8FB08F" stroke-width="1.3" opacity="0.8"/><path d="M119 4.6 a5.2 5.2 0 0 0 0 10.4" stroke="#3F68D8" stroke-width="1.2" opacity="0.85"/><path d="M119 4.6 a5.2 5.2 0 0 1 5.2 5.2" stroke="#7FA88A" stroke-width="1.3" opacity="0.85"/><path d="M119.4 17.5 a7.7 7.7 0 0 0 7.4 -6.5 l-2.3 0 a5.4 5.4 0 0 1 -5.1 4.2 z" fill="#5FB85F" stroke="none" opacity="0.9"/><circle cx="119" cy="9.6" r="1.9" fill="#2B56CE" stroke="#6E8FE0" stroke-width="0.8"/><path d="M119.5 10 V17.6" stroke="#1EA01E" stroke-width="1.3"/></g><g><path d="M139.2 8.6 L153 8.6 L149 14.5 L145.3 17.4 Z" fill="url(#gface)" stroke="#D8A018" stroke-width="0.6"/><path d="M138.4 6.8 C139.6 5.2 141.6 5.4 142.6 5.6 C143 3.4 144.6 2.3 146.3 2.4 C148 2.3 149.4 3.4 149.9 5.4 C151.4 4.8 153.2 5 153.9 6.4 C152.8 8.4 149.6 9.5 146.2 9.5 C142.8 9.5 139.6 8.6 138.4 6.8 Z" fill="url(#ghat)" stroke="#3B86C6" stroke-width="0.6"/><path d="M142.8 6 C144.6 7 148 7 149.8 5.8" fill="none" stroke="#2A6CB0" stroke-width="0.7"/><circle cx="150.5" cy="13.6" r="4.1" fill="url(#gstop)"/><rect x="149" y="12.1" width="3" height="3" fill="#fff"/></g><text x="159" y="13.2" font-size="12" fill="#000" stroke="#000" stroke-width="0.25">自动交易</text><rect x="214" y="0" width="1" height="21" fill="#8C8C8C" shape-rendering="crispEdges"/><rect x="215" y="0" width="1" height="21" fill="#F8F8F8" shape-rendering="crispEdges"/><rect x="218" y="0" width="3" height="1" fill="#A6A6A6" shape-rendering="crispEdges"/><rect x="218" y="2" width="3" height="1" fill="#A6A6A6" shape-rendering="crispEdges"/><rect x="218" y="4" width="3" height="1" fill="#A6A6A6" shape-rendering="crispEdges"/><rect x="218" y="6" width="3" height="1" fill="#A6A6A6" shape-rendering="crispEdges"/><rect x="218" y="8" width="3" height="1" fill="#A6A6A6" shape-rendering="crispEdges"/><rect x="218" y="10" width="3" height="1" fill="#A6A6A6" shape-rendering="crispEdges"/><rect x="218" y="12" width="3" height="1" fill="#A6A6A6" shape-rendering="crispEdges"/><rect x="218" y="14" width="3" height="1" fill="#A6A6A6" shape-rendering="crispEdges"/><rect x="218" y="16" width="3" height="1" fill="#A6A6A6" shape-rendering="crispEdges"/><rect x="218" y="18" width="3" height="1" fill="#A6A6A6" shape-rendering="crispEdges"/><g fill="#5A5A5A"><rect x="232" y="5" width="1" height="13" shape-rendering="crispEdges"/><rect x="230" y="15" width="12" height="1" shape-rendering="crispEdges"/><path d="M230.4 7 L232.5 3.8 L234.6 7 Z M241.4 13.5 L244.4 15.5 L241.4 17.5 Z"/></g><path d="M238.6 5.2 V13.6 M238.6 6.4 h2.4 M236 12.5 h2.6" stroke="#0E8A0E" stroke-width="1.3" fill="none"/><rect x="252" y="0" width="1" height="21" fill="#8C8C8C" shape-rendering="crispEdges"/><rect x="253" y="0" width="1" height="21" fill="#F8F8F8" shape-rendering="crispEdges"/><rect x="253" y="0" width="25" height="21" fill="#F8F8F8"/><g fill="#5A5A5A"><rect x="260" y="5" width="1" height="13" shape-rendering="crispEdges"/><rect x="258" y="15" width="12" height="1" shape-rendering="crispEdges"/><path d="M258.4 7 L260.5 3.8 L262.6 7 Z M269.4 13.5 L272.4 15.5 L269.4 17.5 Z"/></g><defs><linearGradient id="gcn" x1="0" y1="0" x2="1" y2="0"><stop offset="0" stop-color="#22D022"/><stop offset="0.5" stop-color="#8CFF8C"/><stop offset="1" stop-color="#22D022"/></linearGradient></defs><path d="M266.5 2.2 V13.8" stroke="#0E8A0E" stroke-width="1.2"/><rect x="264.4" y="4.6" width="4.2" height="6.8" fill="url(#gcn)" stroke="#0E8A0E" stroke-width="1"/><g fill="#5A5A5A"><rect x="288" y="5" width="1" height="13" shape-rendering="crispEdges"/><rect x="286" y="15" width="12" height="1" shape-rendering="crispEdges"/><path d="M286.4 7 L288.5 3.8 L290.6 7 Z M297.4 13.5 L300.4 15.5 L297.4 17.5 Z"/></g><path d="M287 12.7 C289.5 10.5 291 7.3 293.2 7.3 C295.2 7.3 296.6 10 298.9 11.1" stroke="#1E8A1E" stroke-width="1.1" fill="none" opacity="0.9"/><rect x="309" y="0" width="1" height="21" fill="#8C8C8C" shape-rendering="crispEdges"/><rect x="310" y="0" width="1" height="21" fill="#F8F8F8" shape-rendering="crispEdges"/><g><path d="M328.2 12 L332.8 16.9" stroke="#A88410" stroke-width="3.6" stroke-linecap="butt"/><path d="M328.2 12 L332.6 16.7" stroke="#F2D848" stroke-width="2.2" stroke-linecap="butt"/><circle cx="324" cy="7.8" r="5.5" fill="#D6EEFA" stroke="#3F86D0" stroke-width="1.3"/><path d="M320.4 6.2 a4.2 4.2 0 0 1 7.2 0 a6 4 0 0 0 -7.2 0z" fill="#fff" opacity="0.7"/><path d="M320.8 7.9 h6.4 M324 4.7 v6.4" stroke="#3A7FB2" stroke-width="1.9"/></g><g><path d="M356.2 12 L360.8 16.9" stroke="#A88410" stroke-width="3.6" stroke-linecap="butt"/><path d="M356.2 12 L360.6 16.7" stroke="#F2D848" stroke-width="2.2" stroke-linecap="butt"/><circle cx="352" cy="7.8" r="5.5" fill="#D6EEFA" stroke="#3F86D0" stroke-width="1.3"/><path d="M348.4 6.2 a4.2 4.2 0 0 1 7.2 0 a6 4 0 0 0 -7.2 0z" fill="#fff" opacity="0.7"/><path d="M348.8 7.9 h6.4" stroke="#3A7FB2" stroke-width="1.9"/></g><defs><linearGradient id="ggr" x1="0" y1="0" x2="0" y2="1"><stop offset="0" stop-color="#2E8A14"/><stop offset="1" stop-color="#4CB428"/></linearGradient><linearGradient id="gbl" x1="0" y1="0" x2="0" y2="1"><stop offset="0" stop-color="#163CB8"/><stop offset="1" stop-color="#3C78EC"/></linearGradient></defs><g shape-rendering="crispEdges"><rect x="374" y="2" width="8" height="8" fill="url(#ggr)"/><rect x="375" y="3" width="1" height="1" fill="#E8F0FF"/><rect x="375" y="5" width="6" height="4" fill="#fff"/><rect x="376" y="6" width="4" height="1" fill="#9CD88A"/><rect x="376" y="8" width="4" height="1" fill="url(#ggr)"/></g><g shape-rendering="crispEdges"><rect x="382" y="2" width="8" height="8" fill="url(#gbl)"/><rect x="383" y="3" width="1" height="1" fill="#E8F0FF"/><rect x="383" y="5" width="6" height="4" fill="#fff"/><rect x="384" y="6" width="4" height="1" fill="#9CB4F0"/><rect x="384" y="8" width="4" height="1" fill="url(#gbl)"/></g><g shape-rendering="crispEdges"><rect x="374" y="10" width="8" height="8" fill="url(#gbl)"/><rect x="375" y="11" width="1" height="1" fill="#E8F0FF"/><rect x="375" y="13" width="6" height="4" fill="#fff"/><rect x="376" y="14" width="4" height="1" fill="#9CB4F0"/><rect x="376" y="16" width="4" height="1" fill="url(#gbl)"/></g><g shape-rendering="crispEdges"><rect x="382" y="10" width="8" height="8" fill="url(#ggr)"/><rect x="383" y="11" width="1" height="1" fill="#E8F0FF"/><rect x="383" y="13" width="6" height="4" fill="#fff"/><rect x="384" y="14" width="4" height="1" fill="#9CD88A"/><rect x="384" y="16" width="4" height="1" fill="url(#ggr)"/></g><rect x="399" y="0" width="1" height="21" fill="#8C8C8C" shape-rendering="crispEdges"/><rect x="400" y="0" width="1" height="21" fill="#F8F8F8" shape-rendering="crispEdges"/><rect x="404" y="0" width="1" height="21" fill="#8C8C8C" shape-rendering="crispEdges"/><rect x="405" y="0" width="1" height="21" fill="#F8F8F8" shape-rendering="crispEdges"/><rect x="405" y="0" width="25" height="21" fill="#F8F8F8"/><g fill="#5A5A5A"><rect x="412" y="5" width="1" height="13" shape-rendering="crispEdges"/><rect x="410" y="15" width="12" height="1" shape-rendering="crispEdges"/><path d="M410.4 7 L412.5 3.8 L414.6 7 Z M421.4 13.5 L424.4 15.5 L421.4 17.5 Z"/></g><path d="M417.3 6.3 L421 9.5 L417.3 12.7 Z" fill="#6EE06E" stroke="#18A018" stroke-width="1"/><rect x="432" y="0" width="1" height="21" fill="#8C8C8C" shape-rendering="crispEdges"/><rect x="433" y="0" width="1" height="21" fill="#F8F8F8" shape-rendering="crispEdges"/><rect x="433" y="0" width="25" height="21" fill="#F8F8F8"/><g fill="#5A5A5A"><rect x="440" y="5" width="1" height="13" shape-rendering="crispEdges"/><rect x="438" y="15" width="12" height="1" shape-rendering="crispEdges"/><path d="M438.4 7 L440.5 3.8 L442.6 7 Z M449.4 13.5 L452.4 15.5 L449.4 17.5 Z"/></g><path d="M446.5 4 V13.8" stroke="#1E6EA8" stroke-width="1.2"/><path d="M452 9.5 h-4.4 M450 7.3 l-2.4 2.2 l2.4 2.2" stroke="#D84800" stroke-width="1.1" fill="none"/><path d="M447.4 9.5 l2.2 -1.4 v2.8 z" fill="#D84800"/><rect x="461" y="0" width="1" height="21" fill="#8C8C8C" shape-rendering="crispEdges"/><rect x="462" y="0" width="1" height="21" fill="#F8F8F8" shape-rendering="crispEdges"/><defs><linearGradient id="gpl" x1="0" y1="0" x2="1" y2="1"><stop offset="0" stop-color="#5CF05C"/><stop offset="0.5" stop-color="#18C018"/><stop offset="1" stop-color="#0A9A0A"/></linearGradient></defs><g><path d="M472.3 2.6 h6.6 l3.4 3.4 v9.4 h-10 a0.8 0.8 0 0 1 -0.8 -0.8 v-11.2 a0.8 0.8 0 0 1 0.8 -0.8 z" fill="#FDFDFD" stroke="#8E8E8E" stroke-width="0.9"/><path d="M478.9 2.6 v3.4 h3.4" fill="#E4E4E4" stroke="#8E8E8E" stroke-width="0.7"/><path d="M476 5.4 c-1.6 0 -1.8 0.8 -1.8 2 v5.2 M473.4 8.8 h2.2" stroke="#4A4030" stroke-width="0.9" fill="none"/><path d="M479.4 8.2 h3.6 v4 h4 v3.6 h-4 v4 h-3.6 v-4 h-4 v-3.6 h4 z" fill="url(#gpl)" stroke="#0A8A0A" stroke-width="0.7"/></g><path d="M492.7 9 h5.6 l-2.8 3.3 z" fill="#000"/><defs><linearGradient id="gck" x1="0" y1="0" x2="1" y2="1"><stop offset="0" stop-color="#4CA4FF"/><stop offset="0.5" stop-color="#1C6CDC"/><stop offset="1" stop-color="#0A3A9A"/></linearGradient></defs><g><circle cx="517" cy="10" r="7.9" fill="url(#gck)"/><circle cx="517" cy="10" r="5.3" fill="#F6F8FA" stroke="#B8C4D4" stroke-width="0.5"/><g fill="#9A9A9A"><circle cx="517" cy="5.9" r="0.45"/><circle cx="521.1" cy="10" r="0.45"/><circle cx="512.9" cy="10" r="0.45"/><circle cx="519.9" cy="7.1" r="0.4"/><circle cx="514.1" cy="7.1" r="0.4"/><circle cx="519.9" cy="12.9" r="0.4"/><circle cx="514.1" cy="12.9" r="0.4"/></g><path d="M515.2 12.7 h3.6" stroke="#4A9CF0" stroke-width="0.8"/><path d="M516.3 6.6 L517.3 9.9 L520.2 9.7" stroke="#2A2A2A" stroke-width="1.3" fill="none" stroke-linejoin="round"/></g><path d="M531.2 9 h5.6 l-2.8 3.3 z" fill="#000"/><defs><linearGradient id="gtb" x1="0" y1="0" x2="0" y2="1"><stop offset="0" stop-color="#2E6CC0"/><stop offset="0.5" stop-color="#8CB8F0"/><stop offset="1" stop-color="#3A78C8"/></linearGradient></defs><g shape-rendering="crispEdges"><rect x="548" y="3" width="16" height="14" fill="#2E68BC"/><rect x="549" y="3" width="14" height="3" fill="url(#gtb)"/><rect x="549" y="6" width="14" height="5" fill="#fff"/><rect x="549" y="12" width="14" height="4" fill="#fff"/></g><path d="M550.2 9.5 h1.4 l1.2 -1.1 h1.2 l1.2 -1 l1.4 1 h1.2 l1.4 -1 h1" stroke="#8B1A00" stroke-width="1.2" fill="none"/><path d="M551 14.4 h1 l1.2 -1.2 l1.4 0.9 h1 l1.4 -1.8 h0.8 l1.4 1.9 h0.6" stroke="#0A8A1E" stroke-width="1.1" fill="none"/><path d="M570.2 9 h5.6 l-2.8 3.3 z" fill="#000"/><rect x="582" y="0" width="1" height="21" fill="#8C8C8C" shape-rendering="crispEdges"/><rect x="583" y="0" width="1" height="21" fill="#F8F8F8" shape-rendering="crispEdges"/><rect x="586" y="0" width="3" height="1" fill="#A6A6A6" shape-rendering="crispEdges"/><rect x="586" y="2" width="3" height="1" fill="#A6A6A6" shape-rendering="crispEdges"/><rect x="586" y="4" width="3" height="1" fill="#A6A6A6" shape-rendering="crispEdges"/><rect x="586" y="6" width="3" height="1" fill="#A6A6A6" shape-rendering="crispEdges"/><rect x="586" y="8" width="3" height="1" fill="#A6A6A6" shape-rendering="crispEdges"/><rect x="586" y="10" width="3" height="1" fill="#A6A6A6" shape-rendering="crispEdges"/><rect x="586" y="12" width="3" height="1" fill="#A6A6A6" shape-rendering="crispEdges"/><rect x="586" y="14" width="3" height="1" fill="#A6A6A6" shape-rendering="crispEdges"/><rect x="586" y="16" width="3" height="1" fill="#A6A6A6" shape-rendering="crispEdges"/><rect x="586" y="18" width="3" height="1" fill="#A6A6A6" shape-rendering="crispEdges"/><rect x="592" y="0" width="1" height="21" fill="#8C8C8C" shape-rendering="crispEdges"/><rect x="593" y="0" width="1" height="21" fill="#F8F8F8" shape-rendering="crispEdges"/><rect x="593" y="0" width="25" height="21" fill="#F8F8F8"/><path d="M600 2.8 L600 14.4 L602.6 12 L605 17 L606.8 16.2 L604.6 11.4 L608.3 11.2 Z" fill="#4A4A4A"/><path d="M632.5 3 V18 M625 10.5 H640" stroke="#5A5A5A" stroke-width="1" shape-rendering="crispEdges"/><rect x="631" y="9" width="3" height="3" fill="#F0F0F0"/><rect x="649" y="0" width="1" height="21" fill="#8C8C8C" shape-rendering="crispEdges"/><rect x="650" y="0" width="1" height="21" fill="#F8F8F8" shape-rendering="crispEdges"/><path d="M666.5 4 V17" stroke="#5A5A5A" stroke-width="1.1"/><path d="M689 10.5 H701" stroke="#5A5A5A" stroke-width="1.1"/><path d="M716.5 16.8 L729.3 4.6" stroke="#5A5A5A" stroke-width="0.95"/><g stroke="#4A4A4A" fill="none"><path d="M742.8 11.6 L751.2 4.1 M748 16.9 L757 8.6" stroke-width="1"/><path d="M744.6 16.2 L746.2 10.2 L747.6 13.4 L749.6 7.4 L751.2 11.8 L752.6 9.4 L754.4 2.6 L755.2 8.4 L756.2 7.2" stroke-width="1"/></g><text x="753.8" y="18.7" font-size="6.6" font-weight="bold" fill="#3A3A3A" text-rendering="auto" stroke="#3A3A3A" stroke-width="0.2">E</text><g stroke="#5A5A5A" stroke-width="1" stroke-dasharray="1 1" shape-rendering="crispEdges"><path d="M772 3.5 H785 M772 6.5 H785 M772 10.5 H785 M772 14.5 H781"/></g><text x="782" y="18.7" font-size="6.6" font-weight="bold" fill="#3A3A3A" text-rendering="auto" stroke="#3A3A3A" stroke-width="0.2">F</text><text transform="translate(802.4 15) scale(0.87 1)" font-size="13" fill="#5A5A5A" stroke="#5A5A5A" stroke-width="0.35">A</text><rect x="829.5" y="4.5" width="11" height="12" fill="none" stroke="#5A5A5A" stroke-width="1" stroke-dasharray="1 1" shape-rendering="crispEdges"/><rect x="828" y="3" width="2" height="1" fill="#5A5A5A" shape-rendering="crispEdges"/><text transform="translate(830.9 15) scale(1.16 1)" font-size="11.4" fill="#5A5A5A" stroke="#5A5A5A" stroke-width="0.45">T</text><g fill="#4A4A4A"><path d="M856 7.6 L859.6 3.8 L863.2 7.6 Z"/><path d="M863 13 L870.2 13 L866.6 16.9 Z"/><path d="M858 11.6 L860.2 13.6 L864.7 8.4" fill="none" stroke="#4A4A4A" stroke-width="1.2"/></g><path d="M876.7 9 h5.6 l-2.8 3.3 z" fill="#000"/><rect x="888" y="0" width="1" height="21" fill="#8C8C8C" shape-rendering="crispEdges"/><rect x="889" y="0" width="1" height="21" fill="#F8F8F8" shape-rendering="crispEdges"/><rect x="891" y="0" width="3" height="1" fill="#A6A6A6" shape-rendering="crispEdges"/><rect x="891" y="2" width="3" height="1" fill="#A6A6A6" shape-rendering="crispEdges"/><rect x="891" y="4" width="3" height="1" fill="#A6A6A6" shape-rendering="crispEdges"/><rect x="891" y="6" width="3" height="1" fill="#A6A6A6" shape-rendering="crispEdges"/><rect x="891" y="8" width="3" height="1" fill="#A6A6A6" shape-rendering="crispEdges"/><rect x="891" y="10" width="3" height="1" fill="#A6A6A6" shape-rendering="crispEdges"/><rect x="891" y="12" width="3" height="1" fill="#A6A6A6" shape-rendering="crispEdges"/><rect x="891" y="14" width="3" height="1" fill="#A6A6A6" shape-rendering="crispEdges"/><rect x="891" y="16" width="3" height="1" fill="#A6A6A6" shape-rendering="crispEdges"/><rect x="891" y="18" width="3" height="1" fill="#A6A6A6" shape-rendering="crispEdges"/><rect x="1039" y="0" width="24" height="21" fill="#F8F8F8"/><rect x="1038" y="0" width="1" height="21" fill="#8C8C8C" shape-rendering="crispEdges"/><rect x="1039" y="0" width="1" height="21" fill="#F8F8F8" shape-rendering="crispEdges"/><text class="tf" x="910.0" y="14" font-size="9.5" text-anchor="middle" fill="#3C3C3C" stroke="#3C3C3C" stroke-width="0.15">M1</text><text class="tf" x="937.9" y="14" font-size="9.5" text-anchor="middle" fill="#3C3C3C" stroke="#3C3C3C" stroke-width="0.15">M5</text><text class="tf" x="966.4" y="14" font-size="9.5" text-anchor="middle" fill="#3C3C3C" stroke="#3C3C3C" stroke-width="0.15">M15</text><text class="tf" x="994.2" y="14" font-size="9.5" text-anchor="middle" fill="#3C3C3C" stroke="#3C3C3C" stroke-width="0.15">M30</text><text class="tf" x="1022.3" y="14" font-size="9.5" text-anchor="middle" fill="#3C3C3C" stroke="#3C3C3C" stroke-width="0.15">H1</text><text class="tf" x="1049.8" y="14" font-size="9.5" text-anchor="middle" fill="#3C3C3C" stroke="#3C3C3C" stroke-width="0.15">H4</text><text class="tf" x="1078.7" y="14" font-size="9.5" text-anchor="middle" fill="#3C3C3C" stroke="#3C3C3C" stroke-width="0.15">D1</text><text class="tf" x="1107.0" y="14" font-size="9.5" text-anchor="middle" fill="#3C3C3C" stroke="#3C3C3C" stroke-width="0.15">W1</text><text class="tf" x="1134.0" y="14" font-size="9.5" text-anchor="middle" fill="#3C3C3C" stroke="#3C3C3C" stroke-width="0.15">MN</text><rect x="1149" y="0" width="1" height="21" fill="#8C8C8C" shape-rendering="crispEdges"/><rect x="1150" y="0" width="1" height="21" fill="#F8F8F8" shape-rendering="crispEdges"/><g><path d="M1616.4 10.6 L1612.2 14.9" stroke="#2458CC" stroke-width="2.9" stroke-linecap="round"/><path d="M1615.9 10.1 l1.8 1.8 M1614.6 11.4 l1.8 1.8 M1613.3 12.7 l1.8 1.8" stroke="#6E94E6" stroke-width="0.5"/><circle cx="1619.6" cy="7.5" r="3.9" fill="#FBFBFF" stroke="#2A5CD0" stroke-width="1.4"/></g><defs><linearGradient id="gbd" x1="0" y1="0" x2="0" y2="1"><stop offset="0" stop-color="#EA6040"/><stop offset="0.55" stop-color="#DE2A14"/><stop offset="1" stop-color="#D41C0C"/></linearGradient><linearGradient id="gch" x1="0" y1="0" x2="0" y2="1"><stop offset="0" stop-color="#FFFFFF"/><stop offset="1" stop-color="#D8D8E4"/></linearGradient></defs><g><ellipse cx="1642.5" cy="18.3" rx="5.5" ry="0.9" fill="#C8C8C8" opacity="0.6"/><path d="M1636.4 11.4 a4.6 4.2 0 0 1 4.6 -4.2 h3 a4.6 4.2 0 0 1 4.6 4.2 v0.4 a4.6 4.2 0 0 1 -4.6 4.2 h-2.4 l-2.4 2.4 l0.3 -2.6 a4.6 4.2 0 0 1 -3.1 -4 z" fill="url(#gch)" stroke="#A4A4A8" stroke-width="0.8"/><circle cx="1650.7" cy="7.7" r="8.2" fill="url(#gbd)"/><text x="1650" y="12.2" font-size="12.3" font-weight="bold" text-anchor="middle" fill="#fff">1</text></g></svg></body></html>
